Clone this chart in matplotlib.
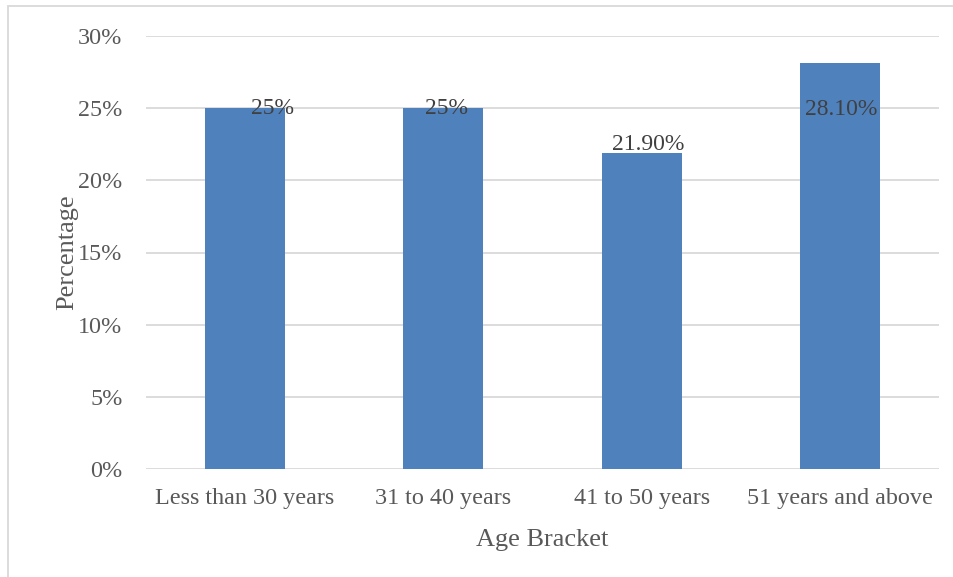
import numpy as np
import matplotlib.pyplot as plt
from matplotlib.patches import Rectangle
from matplotlib.ticker import FuncFormatter

# data
age_brackets = ['Less than 30 years', '31 to 40 years', '41 to 50 years', '51 years and above']
percentages = [25.0, 25.0, 21.9, 28.1]
value_labels = ['25%', '25%', '21.90%', '28.10%']

# where the data labels sit (offset from bar centre, y in data units)
label_dx = [0.14, 0.016, 0.034, 0.006]
label_y = [24.95, 24.95, 22.5, 24.9]

plt.rcParams['font.family'] = ['Liberation Serif', 'DejaVu Serif']
text_col = '#595959'
bar_col = '#4F81BD'
grid_col = '#D9D9D9'

fig = plt.figure(figsize=(9.54, 5.77), dpi=100)
ax = fig.add_axes([146/954, 1 - 469/577, (939 - 146)/954, (469 - 36)/577])

x = np.arange(len(age_brackets))
ax.bar(x, percentages, width=0.403, color=bar_col, zorder=2)

for i in range(len(x)):
    ax.text(x[i] + label_dx[i], label_y[i], value_labels[i], ha='center', va='center',
            fontsize=17, color='#404040', zorder=3)

ax.set_xlim(-0.5, 3.5)
ax.set_ylim(0, 30)
ax.set_yticks(np.arange(0, 31, 5))
ax.yaxis.set_major_formatter(FuncFormatter(lambda v, p: '%d%%' % v))
ax.set_xticks(x)
ax.set_xticklabels(age_brackets)
ax.grid(axis='y', color=grid_col, linewidth=1.3, zorder=0)
ax.set_axisbelow(True)
for s in ['top', 'right', 'left', 'bottom']:
    ax.spines[s].set_visible(False)
ax.tick_params(axis='both', length=0, labelsize=17.4, colors=text_col)
ax.tick_params(axis='y', pad=17)
ax.tick_params(axis='x', pad=14)
ax.set_xlabel('Age Bracket', fontsize=19, color=text_col, labelpad=14)
ax.set_ylabel('Percentage', fontsize=19, color=text_col, labelpad=0)

# outer chart border
fig.patches.append(Rectangle((8/954, -0.1), 1.2, 1 - 6/577 + 0.1, transform=fig.transFigure,
                             fill=False, edgecolor=grid_col, linewidth=1.3))

fig.savefig('out.png', dpi=100)
